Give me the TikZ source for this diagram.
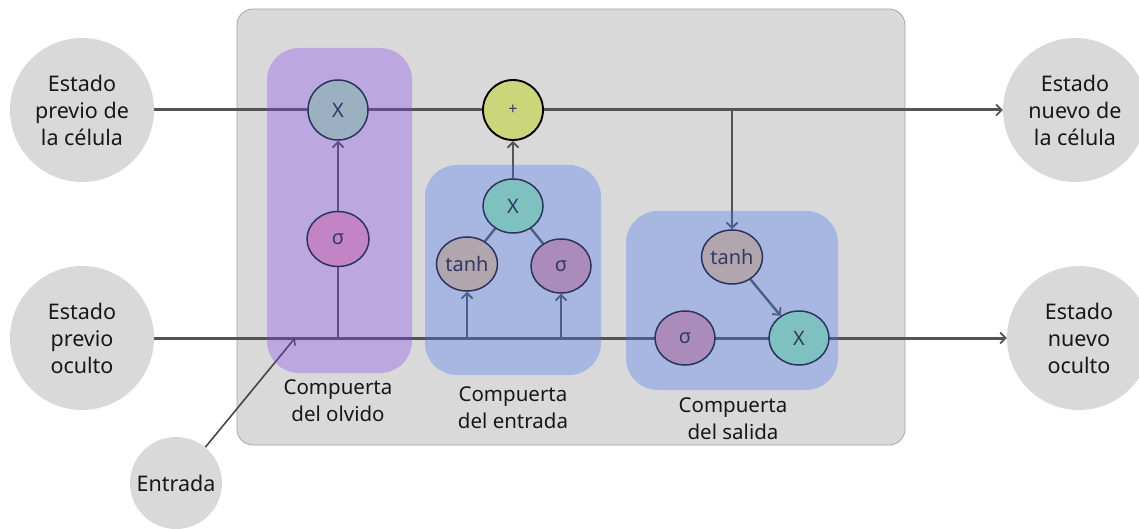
\documentclass[tikz,border=0pt]{standalone}
\usepackage{fontspec}
\setmainfont{Noto Sans}
\usetikzlibrary{arrows.meta,shapes.geometric}

\pgfdeclarelayer{bg}
\pgfdeclarelayer{lines}
\pgfdeclarelayer{boxes}
\pgfsetlayers{bg,lines,boxes,main}

\definecolor{panel}{RGB}{217,217,217}
\definecolor{panelrim}{RGB}{165,165,165}
\definecolor{ink}{RGB}{24,24,24}
\definecolor{wire}{RGB}{84,84,84}
\definecolor{opedge}{RGB}{42,52,92}
\definecolor{optext}{RGB}{48,58,100}
\definecolor{forgettint}{RGB}{132,64,242}
\definecolor{gatetint}{RGB}{67,111,248}
\definecolor{mulgrey}{RGB}{155,176,193}
\definecolor{sigpink}{RGB}{194,132,196}
\definecolor{addlime}{RGB}{203,214,122}
\definecolor{multeal}{RGB}{127,193,192}
\definecolor{tanhmauve}{RGB}{178,166,174}
\definecolor{sigviolet}{RGB}{170,139,185}

\tikzset{
  state/.style={circle, fill=panel, minimum size=144, inner sep=0pt,
    align=center, text=ink, font=\fontsize{21.5}{27}\selectfont},
  small state/.style={state, minimum size=92},
  op/.style={ellipse, draw=opedge, line width=1.5, minimum width=60,
    minimum height=54, inner sep=0pt, text=optext,
    font=\fontsize{20}{20}\selectfont},
  round op/.style={op, circle, minimum size=60},
  gatelabel/.style={align=center, text=ink, font=\fontsize{20.5}{27}\selectfont},
  wireline/.style={draw=wire, line width=3},
  link/.style={draw=wire, line width=2.4},
  tip/.style={-{Straight Barb[length=5.5pt,width=11pt,line width=1.8pt]}},
  gatebox/.style={fill opacity=0.32, rounded corners=32},
}

\begin{document}
\begin{tikzpicture}[x=1pt, y=-1pt]
\useasboundingbox (0,0) rectangle (1139,529);
\clip (0,0) rectangle (1139,529);

% cell panel
\begin{pgfonlayer}{bg}
  \draw[panelrim, fill=panel, line width=0.8, rounded corners=16]
    (237,9) rectangle (905,445);
\end{pgfonlayer}

% external states
\node[state] (prevcell) at (82,110) {Estado\\previo de\\la célula};
\node[state] (prevhid)  at (82,338) {Estado\\previo\\oculto};
\node[state] (newcell)  at (1075,110) {Estado\\nuevo de\\la célula};
\node[state] (newhid)   at (1079,338) {Estado\\nuevo\\oculto};
\node[small state] (entrada) at (176,483) {Entrada};

% forget gate
\node[round op, fill=mulgrey] (fmul) at (338,110) {X};
\node[op, fill=sigpink, minimum width=62, minimum height=55] (fsig) at (338,239) {σ};

% cell state update
\node[round op, draw=black, line width=1.9, fill=addlime,
      font=\fontsize{16}{16}\selectfont\bfseries] (add) at (513,110) {+};

% input gate
\node[op, fill=multeal]   (imul)  at (513,206) {X};
\node[op, fill=tanhmauve] (itanh) at (467,264) {tanh};
\node[op, fill=sigviolet] (isig)  at (561,266) {σ};

% output gate
\node[op, fill=tanhmauve] (otanh) at (732,257) {tanh};
\node[op, fill=sigviolet] (osig)  at (685,338) {σ};
\node[op, fill=multeal]   (omul)  at (799,338) {X};

% gate captions
\node[gatelabel] (flabel) at (338,401) {Compuerta\\del olvido};
\node[gatelabel] (ilabel) at (513,408) {Compuerta\\del entrada};
\node[gatelabel] (olabel) at (733,419) {Compuerta\\del salida};

% taps on the two main lines
\coordinate (ftap)   at (fsig |- prevhid);
\coordinate (itap1)  at (itanh |- prevhid);
\coordinate (itap2)  at (isig |- prevhid);
\coordinate (otap)   at (otanh |- prevcell);
\coordinate (inpoint) at (295,338);

\begin{pgfonlayer}{lines}
  % cell state line and hidden state line
  \draw[wireline, tip] (prevcell.east) -- (newcell.west);
  \draw[wireline, tip] (prevhid.east) -- (newhid.west);
  % forget gate
  \draw[link] (ftap) -- (fsig.south);
  \draw[link, tip] (fsig.north) -- (fmul.south);
  % input gate
  \draw[link, tip] (itap1) -- (itanh.south);
  \draw[link, tip] (itap2) -- (isig.south);
  \draw[link] (imul) -- (itanh);
  \draw[link] (imul) -- (isig);
  \draw[link, tip] (imul.north) -- (add.south);
  % output gate
  \draw[link, tip] (otap) -- (otanh.north);
  \draw[link, tip] (otanh) -- (omul);
  % input
  \draw[draw=wire!85!black, line width=1.6,
        -{Straight Barb[length=5pt,width=10pt,line width=1.4pt]}]
    (entrada) -- (inpoint);
\end{pgfonlayer}

% tinted gate regions
\begin{pgfonlayer}{boxes}
  \fill[forgettint, gatebox] (267,48) rectangle (412,373);
  \fill[gatetint, gatebox]   (425,165) rectangle (601,375);
  \fill[gatetint, gatebox]   (626,211) rectangle (838,390);
\end{pgfonlayer}
\end{tikzpicture}
\end{document}
